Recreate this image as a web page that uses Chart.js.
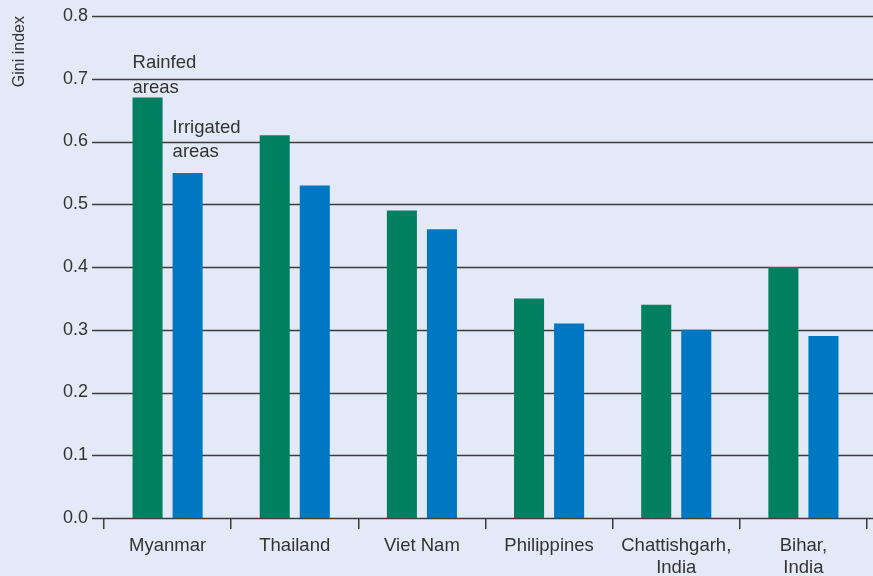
<!DOCTYPE html>
<html lang="en">
<head>
    <meta charset="UTF-8">
    <title>Gini index: rainfed vs irrigated areas</title>
    <style>
        body {
            margin: 0;
            padding: 0;
            background-color: #e3e9f6;
        }

        .chart-container {
            width: 873px;
            height: 576px;
        }
    </style>
</head>
<body>
    <div class="chart-container">
        <canvas id="giniChart"></canvas>
    </div>

    <script src="https://cdn.jsdelivr.net/npm/chart.js"></script>
    <script>
        const categories = ['Myanmar', 'Thailand', 'Viet Nam', 'Philippines', ['Chattishgarh,', 'India'], ['Bihar,', 'India']];
        const rainfed = [0.67, 0.61, 0.49, 0.35, 0.34, 0.40];
        const irrigated = [0.55, 0.53, 0.46, 0.31, 0.30, 0.29];
        const seriesLabels = [['Rainfed', 'areas'], ['Irrigated', 'areas']];

        const textColor = '#333333';
        const lineColor = '#3c3c3c';
        const font = 'Liberation Sans, Arial, Helvetica, sans-serif';

        // horizontal grid lines run past the axis on both sides
        const gridLines = {
            id: 'gridLines',
            beforeDatasetsDraw(chart) {
                const y = chart.scales.y;
                const ctx = chart.ctx;
                ctx.save();
                ctx.strokeStyle = lineColor;
                ctx.lineWidth = 1.5;
                y.ticks.forEach(t => {
                    const py = Math.round(y.getPixelForValue(t.value)) + 0.5;
                    ctx.beginPath();
                    ctx.moveTo(92, py);
                    ctx.lineTo(chart.width, py);
                    ctx.stroke();
                });
                ctx.restore();
            }
        };

        // "Rainfed areas" / "Irrigated areas" labels over the first pair of bars
        const seriesNotes = {
            id: 'seriesNotes',
            afterDatasetsDraw(chart) {
                const ctx = chart.ctx;
                ctx.save();
                ctx.fillStyle = textColor;
                ctx.font = '18.5px ' + font;
                ctx.textAlign = 'left';
                ctx.textBaseline = 'middle';
                const offsets = [[-35, -10], [-45, -21]];
                seriesLabels.forEach((lines, i) => {
                    const bar = chart.getDatasetMeta(i).data[0];
                    const left = bar.x - bar.width / 2;
                    lines.forEach((txt, j) => {
                        ctx.fillText(txt, left, bar.y + offsets[i][j]);
                    });
                });
                ctx.restore();
            }
        };

        const ctx = document.getElementById('giniChart').getContext('2d');
        new Chart(ctx, {
            type: 'bar',
            data: {
                labels: categories,
                datasets: [{
                    label: 'Rainfed areas',
                    data: rainfed,
                    backgroundColor: '#008060'
                }, {
                    label: 'Irrigated areas',
                    data: irrigated,
                    backgroundColor: '#0077c2'
                }]
            },
            options: {
                responsive: true,
                maintainAspectRatio: false,
                devicePixelRatio: 1,
                animation: false,
                categoryPercentage: 0.63,
                barPercentage: 0.75,
                layout: {
                    padding: { top: 16, right: 6, bottom: 0, left: 0 }
                },
                plugins: {
                    legend: { display: false },
                    tooltip: { enabled: false }
                },
                scales: {
                    x: {
                        offset: true,
                        border: { display: false },
                        grid: {
                            offset: true,
                            drawOnChartArea: false,
                            drawTicks: true,
                            tickLength: 11,
                            color: lineColor,
                            lineWidth: 1.5
                        },
                        ticks: {
                            color: textColor,
                            padding: 6,
                            maxRotation: 0,
                            autoSkip: false,
                            font: { family: font, size: 18.5, lineHeight: 1.18 }
                        },
                        afterFit(scale) {
                            scale.height = 58;
                            scale.paddingLeft = 0;
                            scale.paddingRight = 0;
                        }
                    },
                    y: {
                        min: 0,
                        max: 0.8,
                        border: { display: false },
                        grid: { display: false, drawTicks: false },
                        ticks: {
                            stepSize: 0.1,
                            color: textColor,
                            padding: 16,
                            font: { family: font, size: 18 },
                            callback: v => v.toFixed(1)
                        },
                        title: {
                            display: true,
                            text: 'Gini index',
                            align: 'end',
                            color: textColor,
                            padding: { top: 10, bottom: 0 },
                            font: { family: font, size: 16 }
                        },
                        afterFit(scale) {
                            scale.width = 104;
                            scale.paddingTop = 0;
                            scale.paddingBottom = 0;
                        }
                    }
                }
            },
            plugins: [gridLines, seriesNotes]
        });
    </script>
</body>
</html>
